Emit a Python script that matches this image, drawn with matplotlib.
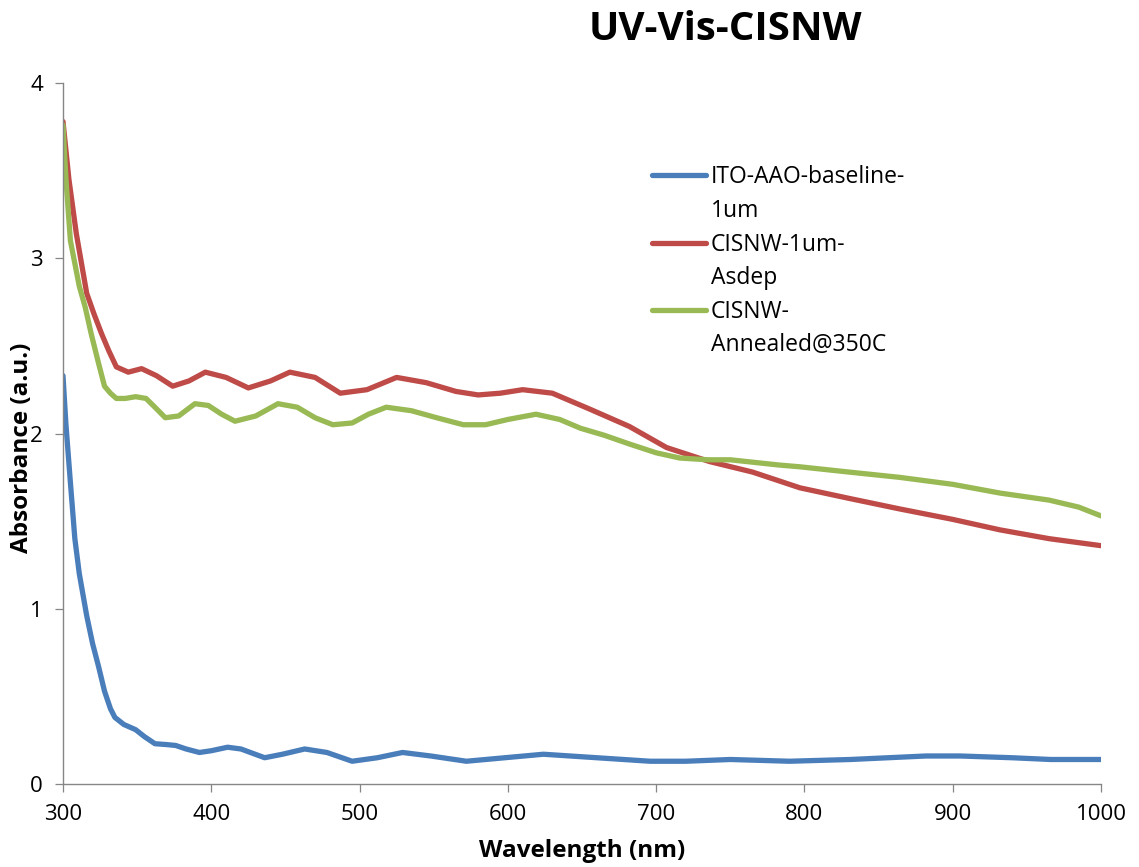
import matplotlib.pyplot as plt
from matplotlib.lines import Line2D

# Datos
wl_blue = [300, 302, 305, 308, 311, 316, 320, 324, 328, 332, 335, 341, 349, 355, 362,
           370, 376, 383, 392, 400, 411, 420, 436, 448, 463, 478, 495, 512, 529, 548,
           572, 598, 624, 660, 696, 720, 750, 790, 831, 882, 905, 940, 966, 1000]
abs_blue = [2.33, 2.05, 1.72, 1.40, 1.20, 0.96, 0.80, 0.67, 0.53, 0.43, 0.38, 0.34, 0.31, 0.27, 0.23,
            0.225, 0.22, 0.20, 0.18, 0.19, 0.21, 0.20, 0.15, 0.17, 0.20, 0.18, 0.13, 0.15, 0.18, 0.16,
            0.13, 0.15, 0.17, 0.15, 0.13, 0.13, 0.14, 0.13, 0.14, 0.16, 0.16, 0.15, 0.14, 0.14]

wl_red = [300, 304, 309, 316, 321, 326, 331, 336, 344, 353, 363, 374, 385, 396, 410,
          425, 440, 453, 470, 487, 505, 525, 545, 565, 580, 595, 610, 630, 655, 682,
          707, 736, 765, 797, 830, 864, 900, 932, 965, 1000]
abs_red = [3.78, 3.45, 3.14, 2.80, 2.68, 2.57, 2.47, 2.38, 2.35, 2.37, 2.33, 2.27, 2.30, 2.35, 2.32,
           2.26, 2.30, 2.35, 2.32, 2.23, 2.25, 2.32, 2.29, 2.24, 2.22, 2.23, 2.25, 2.23, 2.14, 2.04,
           1.92, 1.84, 1.78, 1.69, 1.63, 1.57, 1.51, 1.45, 1.40, 1.36]

wl_green = [300, 302, 305, 308, 311, 315, 319, 324, 328, 332, 336, 342, 349, 356, 362,
            369, 378, 389, 398, 407, 416, 430, 445, 458, 470, 482, 495, 506, 518, 535,
            552, 570, 585, 600, 619, 635, 649, 665, 682, 700, 716, 735, 750, 783, 797,
            830, 864, 900, 932, 965, 985, 1000]
abs_green = [3.76, 3.45, 3.10, 2.97, 2.84, 2.72, 2.57, 2.40, 2.27, 2.23, 2.20, 2.20, 2.21, 2.20, 2.15,
             2.09, 2.10, 2.17, 2.16, 2.11, 2.07, 2.10, 2.17, 2.15, 2.09, 2.05, 2.06, 2.11, 2.15, 2.13,
             2.09, 2.05, 2.05, 2.08, 2.11, 2.08, 2.03, 1.99, 1.94, 1.89, 1.86, 1.85, 1.85, 1.82, 1.81,
             1.78, 1.75, 1.71, 1.66, 1.62, 1.58, 1.53]

series = [
    (wl_blue, abs_blue, '#4A7EBB', ['ITO-AAO-baseline-', '1um']),
    (wl_red, abs_red, '#BE4B48', ['CISNW-1um-', 'Asdep']),
    (wl_green, abs_green, '#98B954', ['CISNW-', 'Annealed@350C']),
]

x_ticks = [300, 400, 500, 600, 700, 800, 900, 1000]
y_ticks = [0, 1, 2, 3, 4]

plt.rcParams['font.family'] = ['Open Sans', 'DejaVu Sans']
gris = '#868686'
grosor = 3.8

fig = plt.figure(figsize=(11.39, 8.67), dpi=100)
ax = fig.add_axes([0.0553, 0.0957, 0.9113, 0.8086])

for wl, ab, color, _ in series:
    ax.plot(wl, ab, color=color, linewidth=grosor, solid_joinstyle='round', solid_capstyle='round')

ax.set_xlim(300, 1000)
ax.set_ylim(0, 4)
ax.set_xticks(x_ticks)
ax.set_yticks(y_ticks)
ax.tick_params(direction='out', length=5.5, width=0.9, color=gris, labelsize=16, pad=9)

for side in ['top', 'right']:
    ax.spines[side].set_visible(False)
for side in ['left', 'bottom']:
    ax.spines[side].set_color(gris)
    ax.spines[side].set_linewidth(1.0)

ax.set_xlabel('Wavelength (nm)', fontsize=17.5, fontweight='bold')
ax.xaxis.set_label_coords(0.5, -0.078)
ax.set_ylabel('Absorbance (a.u.)', fontsize=17.5, fontweight='bold')
ax.yaxis.set_label_coords(-0.028, 0.479)

fig.text(0.637, 0.966, 'UV-Vis-CISNW', fontsize=29, fontweight='bold', ha='center', va='center')

# Leyenda: la linea va con la primera linea del texto
handles, labels = [], []
for _, _, color, lab in series:
    handles.append(Line2D([], [], color=color, linewidth=grosor, solid_capstyle='round'))
    labels.append(lab[0])
    handles.append(Line2D([], [], color='none'))
    labels.append(lab[1])
leg = ax.legend(handles, labels, loc='upper left', bbox_to_anchor=(0.548, 0.912),
                frameon=False, fontsize=16.5, handlelength=2.35, handletextpad=0.2,
                labelspacing=0.42)

fig.savefig('out.png', dpi=100)
